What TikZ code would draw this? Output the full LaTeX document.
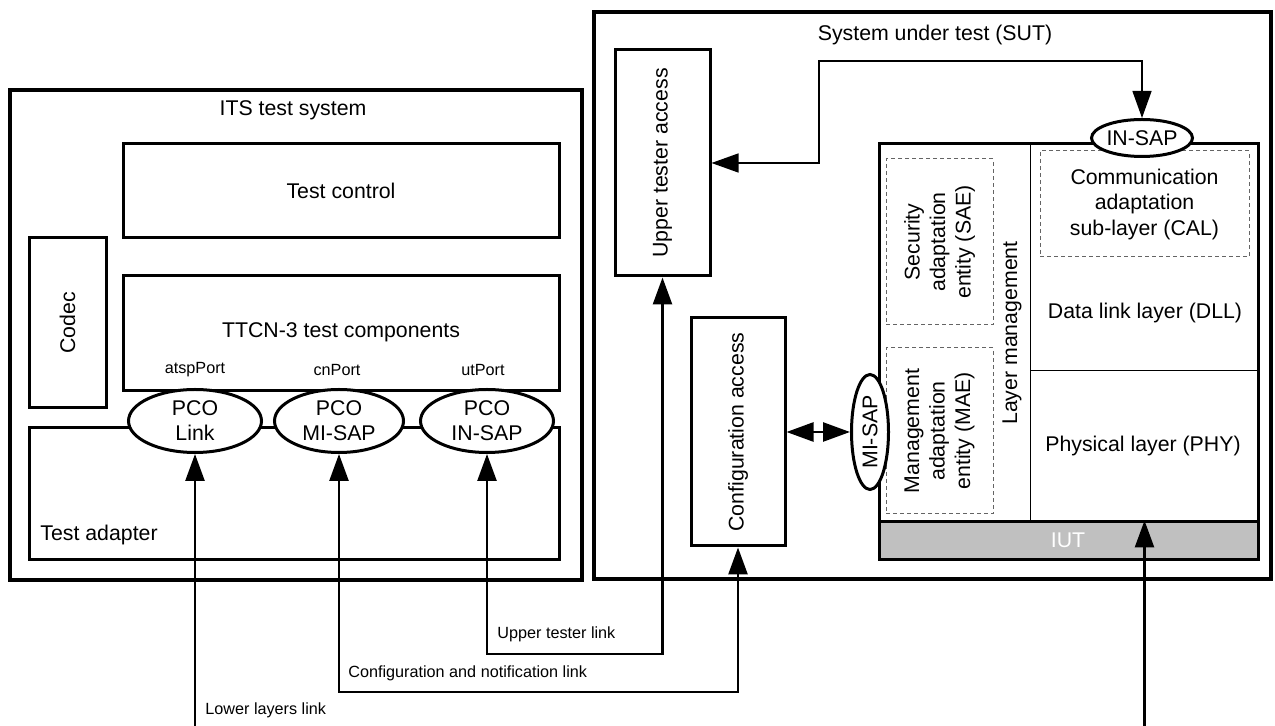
\documentclass[tikz,border=0pt]{standalone}
\usepackage{fontspec}
\setmainfont{Liberation Sans}
\usetikzlibrary{shapes.geometric,arrows.meta}
\definecolor{iutgray}{RGB}{192,192,192}
\definecolor{dashgray}{RGB}{100,100,100}
\tikzset{
  outerbox/.style={draw, line width=2.3pt, inner sep=0pt},
  box/.style={draw, line width=1.5pt, inner sep=0pt},
  pco/.style={draw, ellipse, line width=1.5pt, fill=white, inner sep=0pt, align=center, font=\fontsize{10.65}{12.5}\selectfont},
  dbox/.style={draw=dashgray, dash pattern=on 2pt off 1.5pt, line width=0.5pt, inner sep=0pt},
  big/.style={inner sep=0pt, font=\fontsize{10.65}{12.75}\selectfont},
  small/.style={inner sep=0pt, font=\fontsize{8.1}{9.7}\selectfont},
  conn/.style={line width=1.3pt},
  thinconn/.style={line width=0.7pt},
  divider/.style={line width=0.5pt},
  >={Triangle[length=13.5pt,width=9.5pt]}
}
\begin{document}
\begin{tikzpicture}[x=0.5pt,y=-0.5pt]
\useasboundingbox (0,0) rectangle (1275,726);

% ---------- ITS test system ----------
\node[outerbox, minimum width=286pt, minimum height=245pt] (its) at (296,335) {};
\node[big] (itstitle) at (293,110) {ITS test system};
\node[box, minimum width=218pt, minimum height=47pt] (testctrl) at (341,191) {};
\node[big] (testctrltxt) at (testctrl.center) {Test control};
\node[box, minimum width=38.5pt, minimum height=85pt] (codec) at (67.5,323) {};
\node[big, rotate=90] (codectxt) at (codec.center) {Codec};
\node[box, minimum width=218pt, minimum height=57.5pt] (ttcn) at (341,333.5) {};
\node[big] (ttcntxt) at (341,332) {TTCN-3 test components};
\node[box, minimum width=265pt, minimum height=66pt] (adapter) at (294,494) {};
\node[big, anchor=west] (adaptertxt) at (40,535) {Test adapter};

\node[small] (atsp) at (195,370) {atspPort};
\node[small] (cnp) at (337,370) {cnPort};
\node[small] (utp) at (483,370) {utPort};

\node[pco, minimum width=66.5pt, minimum height=31.5pt] (pcolink) at (195,421) {PCO\\Link};
\node[pco, minimum width=64.5pt, minimum height=31.5pt] (pcomisap) at (339,421) {PCO\\MI-SAP};
\node[pco, minimum width=66.5pt, minimum height=31.5pt] (pcoinsap) at (487,421) {PCO\\IN-SAP};

% ---------- SUT ----------
\node[outerbox, minimum width=338.5pt, minimum height=283.5pt] (sut) at (932.5,295.5) {};
\node[big] (suttitle) at (935,35) {System under test (SUT)};
\node[box, minimum width=47.5pt, minimum height=113pt] (uta) at (662.5,163) {};
\node[big, rotate=90] (utatxt) at (uta.center) {Upper tester access};
\node[box, minimum width=47pt, minimum height=114pt] (cfg) at (738,432) {};
\node[big, rotate=90] (cfgtxt) at (cfg.center) {Configuration access};

\node[box, minimum width=189.5pt, minimum height=208pt] (iut) at (1068.5,352) {};
\node[draw, line width=1.5pt, fill=iutgray, inner sep=0pt, minimum width=189.5pt, minimum height=19pt] (iutband) at (1068.5,541) {};
\node[big, text=white] (iuttxt) at (1068,540) {IUT};
\coordinate (dvtop) at (1030,144);
\coordinate (dvbot) at (1030,522);
\coordinate (hdl) at (1030,371);
\coordinate (hdr) at (1258,371);
\draw[divider] (dvtop) -- (dvbot);
\draw[divider] (hdl) -- (hdr);

\node[dbox, minimum width=104.5pt, minimum height=53pt] (cal) at (1144.5,204) {};
\node[big, align=center] (caltxt) at (cal.center) {Communication\\adaptation\\sub-layer (CAL)};
\node[big] (dlltxt) at (1145,313) {Data link layer (DLL)};
\node[big] (phytxt) at (1143,446) {Physical layer (PHY)};
\node[dbox, minimum width=53.5pt, minimum height=83pt] (sae) at (939.5,242) {};
\node[big, rotate=90, align=center] (saetxt) at (sae.center) {Security\\adaptation\\entity (SAE)};
\node[dbox, minimum width=53.5pt, minimum height=83pt] (mae) at (939.5,431) {};
\node[big, rotate=90, align=center] (maetxt) at (mae.center) {Management\\adaptation\\entity (MAE)};
\node[big, rotate=90] (lmtxt) at (1012,333) {Layer management};

\node[draw, ellipse, line width=1.5pt, fill=white, inner sep=0pt, minimum width=50.5pt, minimum height=18.5pt] (insap) at (1142,138) {};
\node[big] (insaptxt) at (insap.center) {IN-SAP};
\node[draw, ellipse, line width=1.5pt, fill=white, inner sep=0pt, minimum width=18.5pt, minimum height=57.5pt] (misap) at (870,432) {};
\node[big, rotate=90] (misaptxt) at (misap.center) {MI-SAP};

% ---------- connectors ----------
\coordinate (lowtail) at (195,726);
\coordinate (iuttail) at (1144.5,726);
\coordinate (cnl) at (0,692);
\coordinate (utl) at (0,654);
\coordinate (topbend) at (819,61);

\draw[conn,->] (lowtail) -- (pcolink.south);
\draw[conn,<->] (pcomisap.south) |- (cfg.south |- cnl) -- (cfg.south);
\draw[conn,<->] (pcoinsap.south) |- (uta.south |- utl) -- (uta.south);
\draw[thinconn,<->] (uta.east) -| (topbend) -| (insap.north);
\draw[conn,<->] (cfg.east) -- (misap.west);
\draw[conn,->] (iuttail) -- (iuttail |- iutband.north);

\node[small, anchor=west] (lowlbl) at (205,710) {Lower layers link};
\node[small, anchor=west] (cnllbl) at (348,673) {Configuration and notification link};
\node[small, anchor=west] (utllbl) at (497,634) {Upper tester link};
\end{tikzpicture}
\end{document}
